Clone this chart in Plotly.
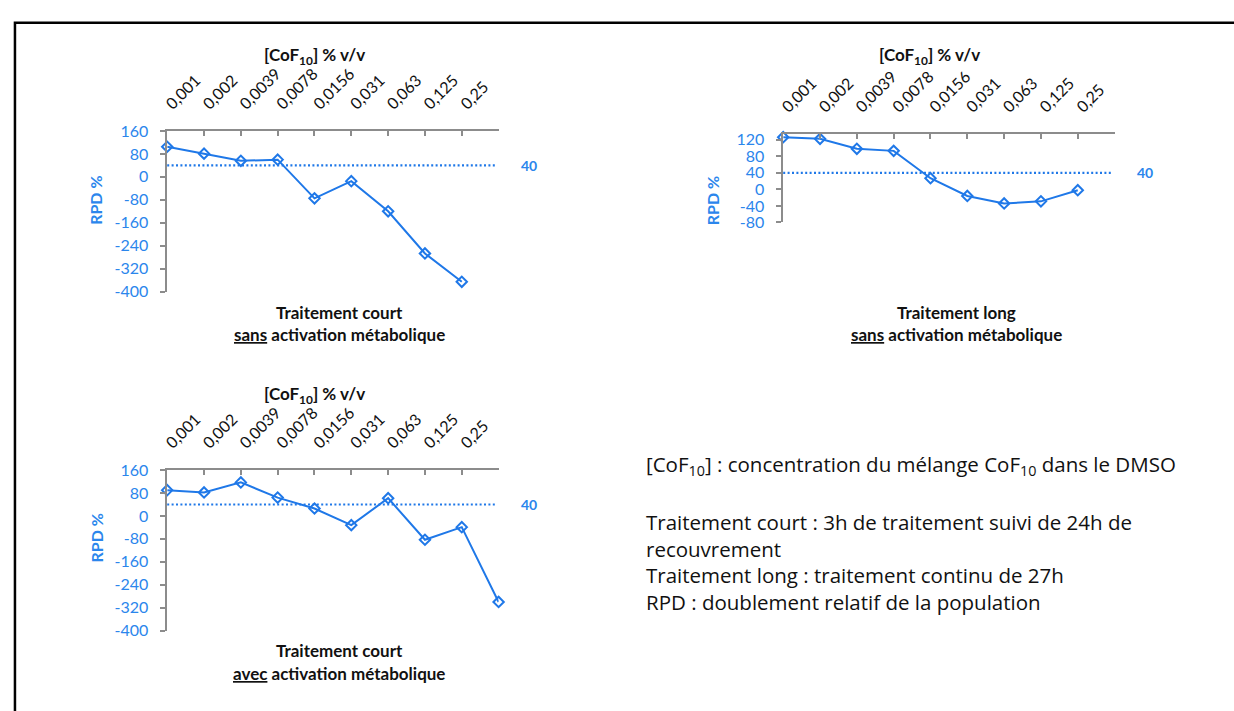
import plotly.graph_objects as go

# ---------------- data ----------------
categories = ["0,001", "0,002", "0,0039", "0,0078", "0,0156", "0,031", "0,063", "0,125", "0,25"]
rpd_court_sans = [105, 81, 56, 60, -75, -15, -120, -267, -366]
rpd_long_sans = [126, 122, 98, 93, 27, -16, -34, -29, -2]
rpd_court_avec = [90, 82, 117, 64, 26, -32, 62, -83, -39, -300]
threshold = 40

y_ticks_court = [160, 80, 0, -80, -160, -240, -320, -400]
y_ticks_long = [120, 80, 40, 0, -40, -80]

x_title = "<b>[CoF<sub>10</sub>] % v/v</b>"
captions = [
    ("<b>Traitement court</b>", "<b><u>sans</u> activation métabolique</b>"),
    ("<b>Traitement long</b>", "<b><u>sans</u> activation métabolique</b>"),
    ("<b>Traitement court</b>", "<b><u>avec</u> activation métabolique</b>"),
]
note_head = "[CoF<sub>10</sub>] : concentration du mélange CoF<sub>10</sub> dans le DMSO"
note_lines = [
    "Traitement court : 3h de traitement suivi de 24h de",
    "recouvrement",
    "Traitement long : traitement continu de 27h",
    "RPD : doublement relatif de la population",
]

# ---------------- style ----------------
W, H = 1234, 711
FONT = "Lato, 'Open Sans', sans-serif"
NOTE_FONT = "'Open Sans', Lato, sans-serif"
BLUE = "#1f78e8"
TXT_BLUE = "#2b86ec"
AXIS = "#8c8c8c"
DARK = "#111111"


def px_x(x):
    return x / W


def px_y(y):
    return 1 - y / H


panels = [
    dict(vals=rpd_court_sans, yr=[-400, 160], yt=y_ticks_court, xd=(162, 495), yd=(124.3, 289.3),
         tx=310, ty=47.5, cx=335, cy=(310.5, 333.5), rx=90.5, ry=196, lx=526),
    dict(vals=rpd_long_sans, yr=[-80, 134], yt=y_ticks_long, xd=(781, 1114), yd=(127.3, 218.3),
         tx=928, ty=47.5, cx=955, cy=(311, 333.5), rx=710, ry=196, lx=1145),
    dict(vals=rpd_court_avec, yr=[-400, 160], yt=y_ticks_court, xd=(162, 495), yd=(472.7, 637.7),
         tx=310, ty=395.5, cx=335, cy=(658.5, 682), rx=90.5, ry=543, lx=526),
]

n_slots = 10  # tick marks along the category axis

fig = go.Figure()
annotations = []
shapes = []

for i, p in enumerate(panels, start=1):
    sfx = "" if i == 1 else str(i)
    fig.add_trace(go.Scatter(
        x=list(range(len(p["vals"]))), y=p["vals"], mode="lines+markers",
        xaxis="x" + sfx, yaxis="y" + sfx,
        line=dict(color=BLUE, width=2),
        marker=dict(symbol="diamond-open", size=8, color=BLUE, line=dict(width=2, color=BLUE)),
        cliponaxis=False, showlegend=False,
    ))
    fig.update_layout(**{
        "xaxis" + sfx: dict(
            domain=[px_x(p["xd"][0]), px_x(p["xd"][1])],
            range=[0, n_slots - 1],
            tickmode="array", tickvals=list(range(len(categories))), ticktext=categories,
            side="top", anchor="y" + sfx, tickangle=-45,
            ticks="inside", ticklen=5, tickcolor=AXIS, tickwidth=1.5,
            minor=dict(tickmode="linear", tick0=0, dtick=1, ticks="inside", ticklen=5,
                       tickcolor=AXIS, tickwidth=1.5, showgrid=False),
            showline=True, linecolor=AXIS, linewidth=1.5,
            showgrid=False, zeroline=False,
            ticklabelstandoff=10,
            tickfont=dict(family=FONT, size=16, color=DARK),
        ),
        "yaxis" + sfx: dict(
            domain=[px_y(p["yd"][1]), px_y(p["yd"][0])],
            range=p["yr"], tickmode="array", tickvals=p["yt"],
            ticktext=[str(v) for v in p["yt"]],
            anchor="x" + sfx,
            ticks="outside", ticklen=5, tickcolor=AXIS, tickwidth=1.5,
            showline=True, linecolor=AXIS, linewidth=1.5,
            showgrid=False, zeroline=False,
            tickfont=dict(family=FONT, size=16, color=TXT_BLUE),
            ticklabelstandoff=9,
        ),
    })
    # threshold line
    shapes.append(dict(type="line", xref="x" + sfx + " domain", yref="y" + sfx,
                       x0=0, x1=0.99, y0=threshold, y1=threshold,
                       line=dict(color=BLUE, width=2.2, dash="2px,2.4px")))
    annotations.append(dict(text="<b>%d</b>" % threshold, xref="paper", yref="y" + sfx,
                            x=px_x(p["lx"]), y=threshold, xanchor="center", yanchor="middle",
                            showarrow=False, font=dict(family=FONT, size=14, color=TXT_BLUE)))
    annotations.append(dict(text=x_title, xref="paper", yref="paper",
                            x=px_x(p["tx"]), y=px_y(p["ty"]), xanchor="center", yanchor="middle",
                            showarrow=False, font=dict(family=FONT, size=17, color=DARK)))
    annotations.append(dict(text="<b>RPD %</b>", xref="paper", yref="paper", textangle=-90,
                            x=px_x(p["rx"]), y=px_y(p["ry"]), xanchor="center", yanchor="middle",
                            showarrow=False, font=dict(family=FONT, size=16, color=TXT_BLUE)))
    for line_txt, cyy in zip(captions[i - 1], p["cy"]):
        annotations.append(dict(text=line_txt, xref="paper", yref="paper",
                                x=px_x(p["cx"]), y=px_y(cyy), xanchor="center", yanchor="middle",
                                showarrow=False, font=dict(family=FONT, size=17, color=DARK)))

# explanatory notes
annotations.append(dict(text=note_head, xref="paper", yref="paper", xanchor="left", yanchor="middle",
                        x=px_x(641), y=px_y(468), showarrow=False, align="left",
                        font=dict(family=NOTE_FONT, size=20.5, color=DARK)))
annotations.append(dict(text="<br>".join(note_lines), xref="paper", yref="paper",
                        xanchor="left", yanchor="middle", align="left",
                        x=px_x(641), y=px_y(567), showarrow=False,
                        font=dict(family=NOTE_FONT, size=20.5, color=DARK)))

# outer frame
shapes.append(dict(type="rect", xref="paper", yref="paper",
                   x0=px_x(9), x1=1.02, y0=-0.02, y1=px_y(13),
                   line=dict(color="black", width=2.5), layer="above"))

fig.update_layout(
    width=W, height=H, margin=dict(l=0, r=0, t=0, b=0),
    paper_bgcolor="white", plot_bgcolor="white",
    annotations=annotations, shapes=shapes,
    font=dict(family=FONT),
)

fig.write_html("out.html", config={"displayModeBar": False},
               post_script="document.body.style.margin='0';document.body.style.overflow='hidden';")
